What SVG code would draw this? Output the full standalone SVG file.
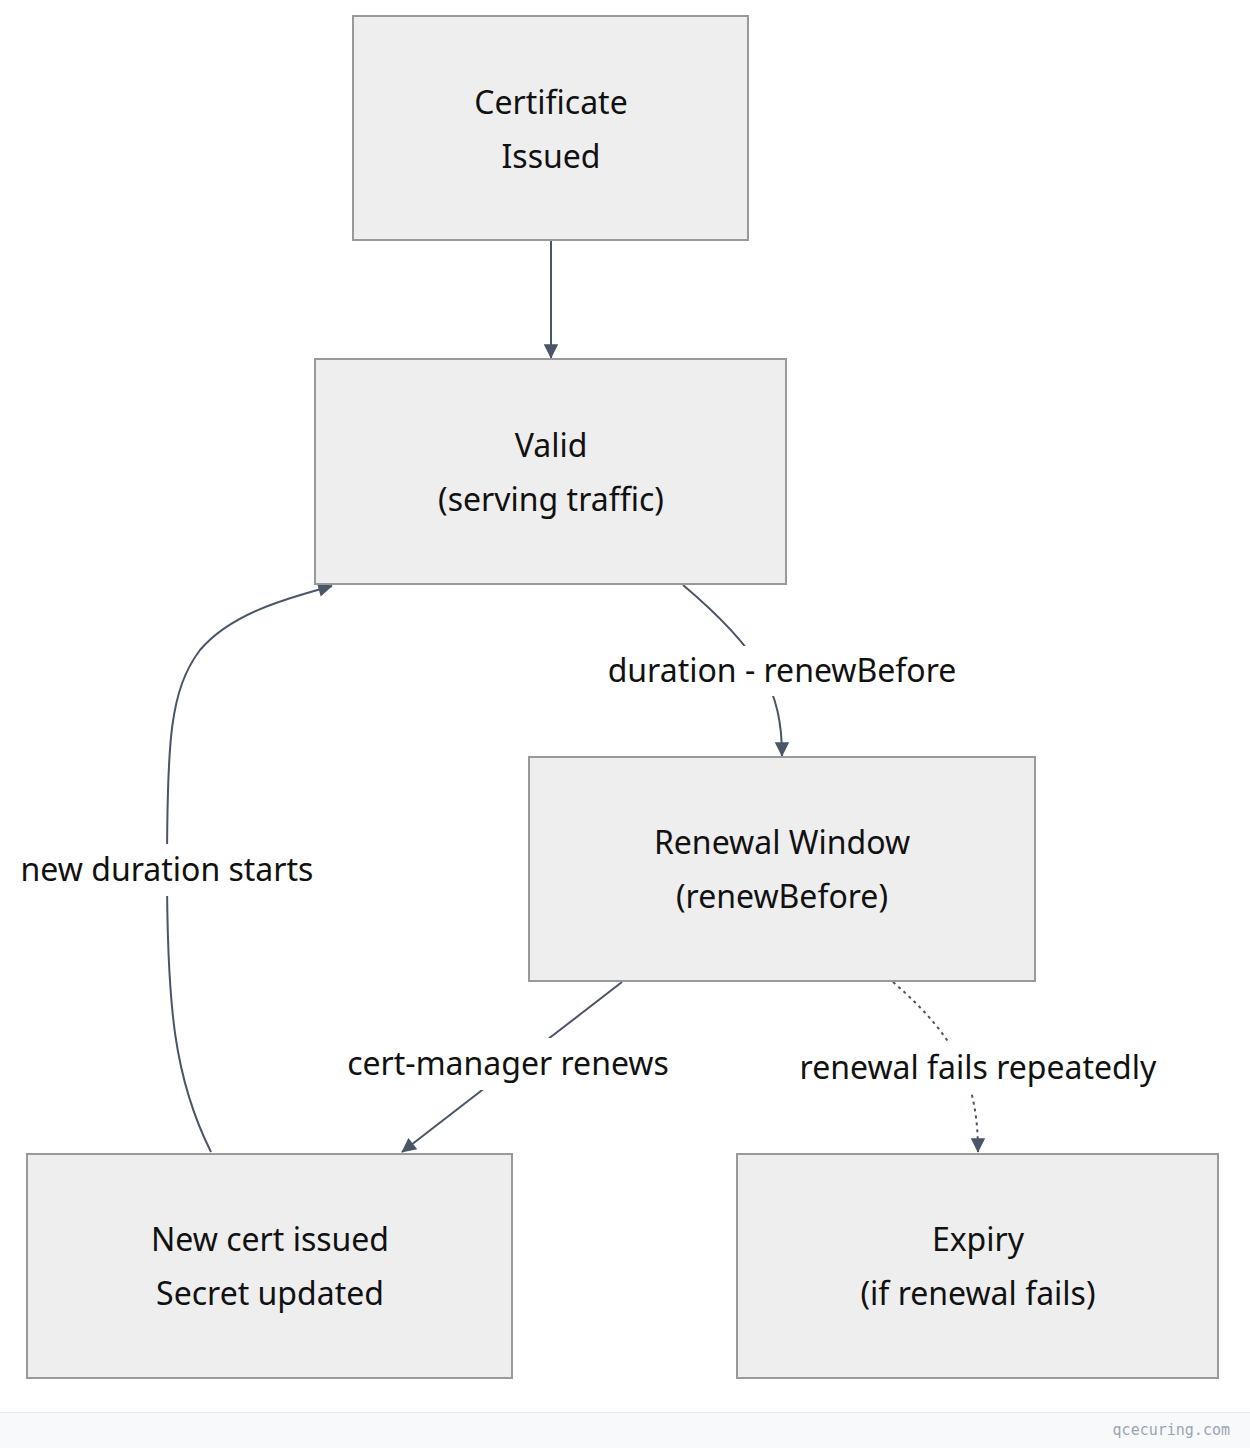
<svg xmlns="http://www.w3.org/2000/svg" width="1250" height="1448" viewBox="0 0 1250 1448">
<defs>
<style>
.n{fill:#eeeeee;stroke:#999999;stroke-width:2}
.t{font-family:"Noto Sans","Open Sans",sans-serif;font-size:32px;fill:#111;text-anchor:middle}
.e{fill:none;stroke:#4a5568;stroke-width:2}
.d{stroke-dasharray:3,4}
.lb{fill:#ffffff}
</style>
<marker id="a" viewBox="0 0 10 10" refX="9" refY="5" markerWidth="8" markerHeight="8" orient="auto" markerUnits="userSpaceOnUse" style="overflow:visible"><path d="M0,0L10,5L0,10z" fill="#4a5568" transform="scale(1.8) translate(-4.5,-2.2)"/></marker>
</defs>
<rect width="1250" height="1448" fill="#ffffff"/>
<g id="connectors">
<path class="e" d="M551,241V358" marker-end="url(#a)"/>
<path class="e" d="M683,585C760,650 782,690 782,756" marker-end="url(#a)"/>
<path class="e" d="M622,982L402,1152" marker-end="url(#a)"/>
<path class="e d" d="M893,982C960,1040 978,1085 978,1152" marker-end="url(#a)"/>
<path class="e" d="M211,1152C175,1080 167,1010 167,870C167,740 170,690 200,650C230,615 280,600 332,586" marker-end="url(#a)"/>
<rect class="lb" x="595" y="646" width="375" height="50"/>
<text class="t" x="782" y="682">duration - renewBefore</text>
<rect class="lb" x="12" y="844" width="310" height="52"/>
<text class="t" x="167" y="881">new duration starts</text>
<rect class="lb" x="338" y="1038" width="340" height="52"/>
<text class="t" x="508" y="1075">cert-manager renews</text>
<rect class="lb" x="788" y="1042" width="380" height="52"/>
<text class="t" x="978" y="1079">renewal fails repeatedly</text>
</g>
<g id="issued"><rect class="n" x="353" y="16" width="395" height="224"/><text class="t" x="551" y="114">Certificate</text><text class="t" x="551" y="168">Issued</text></g>
<g id="valid"><rect class="n" x="315" y="359" width="471" height="225"/><text class="t" x="551" y="457">Valid</text><text class="t" x="551" y="511">(serving traffic)</text></g>
<g id="renewal"><rect class="n" x="529" y="757" width="506" height="224"/><text class="t" x="782" y="854">Renewal Window</text><text class="t" x="782" y="908">(renewBefore)</text></g>
<g id="newcert"><rect class="n" x="27" y="1154" width="485" height="224"/><text class="t" x="270" y="1251">New cert issued</text><text class="t" x="270" y="1305">Secret updated</text></g>
<g id="expiry"><rect class="n" x="737" y="1154" width="481" height="224"/><text class="t" x="978" y="1251">Expiry</text><text class="t" x="978" y="1305">(if renewal fails)</text></g>
<g id="footer"><rect x="0" y="1412" width="1250" height="36" fill="#f8f9fb"/><line x1="0" y1="1412.5" x2="1250" y2="1412.5" stroke="#e5e7eb"/><text x="1230" y="1435" font-family="'DejaVu Sans Mono',monospace" font-size="15" fill="#9aa5b4" text-anchor="end">qcecuring.com</text></g>
</svg>
